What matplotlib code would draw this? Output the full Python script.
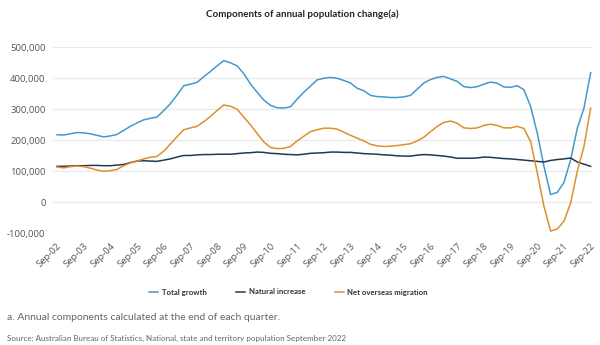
import numpy as np
import matplotlib
matplotlib.use("Agg")
import matplotlib.pyplot as plt

plt.rcParams['font.family'] = ['Lato', 'DejaVu Sans']

# quarterly, year ending Sep-02 .. Sep-22
quarters = np.arange(81)
tick_labels = ['Sep-%02d' % (y % 100) for y in range(2002, 2023)]

total_growth = [
    218, 217, 221, 225, 224, 221, 216, 211, 214, 219,
    232, 245, 256, 266, 271, 275, 296, 318, 346, 376,
    381, 387, 405, 422, 440, 457, 450, 440, 415, 382,
    355, 330, 313, 305, 304, 308, 333, 355, 375, 395,
    400, 403, 400, 393, 385, 368, 360, 345, 341, 340,
    338, 338, 340, 345, 365, 385, 396, 403, 406, 398,
    390, 373, 370, 373, 381, 388, 384, 372, 371, 376,
    363, 309, 223, 116, 25, 32, 64, 137, 239, 304,
    418,
]
natural_increase = [
    116, 116, 117, 118, 118, 119, 119, 118, 118, 120,
    122, 128, 133, 134, 133, 132, 136, 140, 146, 151,
    151, 153, 154, 154, 155, 155, 155, 157, 159, 160,
    162, 161, 158, 157, 155, 154, 153, 155, 158, 159,
    160, 162, 162, 161, 161, 159, 157, 156, 155, 153,
    152, 150, 149, 149, 152, 154, 153, 151, 149, 146,
    142, 142, 142, 143, 146, 145, 143, 141, 140, 138,
    136, 134, 132, 130, 135, 138, 140, 143, 130, 123,
    116,
]
net_overseas_migration = [
    114, 111, 115, 117, 115, 110, 104, 100, 102, 106,
    118, 127, 133, 140, 145, 148, 165, 188, 212, 234,
    240, 245, 260, 277, 296, 314, 310, 300, 275, 250,
    222, 195, 177, 173, 174, 180, 198, 213, 228, 234,
    239, 239, 236, 226, 216, 207, 198, 187, 182, 180,
    181, 183, 186, 189, 198, 210, 228, 245, 258, 262,
    255, 240, 238, 240, 248, 252, 248, 240, 240, 245,
    238, 196, 95, -13, -93, -86, -61, -2, 100, 180,
    304,
]

series = [
    ('Total growth', total_growth, '#4499cc'),
    ('Natural increase', natural_increase, '#1f3a56'),
    ('Net overseas migration', net_overseas_migration, '#e08e2c'),
]

fig = plt.figure(figsize=(6, 3.45), dpi=100)
ax = fig.add_axes([0.0883, 0.3238, 0.9, 0.5391])

for name, vals, col in series:
    ax.plot(quarters, np.array(vals) * 1000, color=col, lw=1.1, label=name)

ax.set_xlim(-0.6, 80.35)
ax.set_ylim(-100000, 500000)
ax.set_yticks(np.arange(-100000, 500001, 100000))
ax.yaxis.set_major_formatter(matplotlib.ticker.FuncFormatter(lambda v, p: '{:,.0f}'.format(v)))
ax.set_xticks(quarters[::4])
ax.set_xticklabels(tick_labels, rotation=45, ha='right', rotation_mode='anchor')
for lab in ax.get_xticklabels() + ax.get_yticklabels():
    lab.set_family('Open Sans')
ax.tick_params(axis='both', length=0, labelsize=6.8, labelcolor='#555555')
ax.tick_params(axis='x', pad=6)
ax.tick_params(axis='y', pad=5.3)
ax.grid(axis='y', color='#e8e8e8', lw=0.9)
ax.set_axisbelow(True)
for s in ax.spines.values():
    s.set_visible(False)

fig.text(302 / 600, 1 - 14.6 / 345, 'Components of annual population change(a)',
         ha='center', va='center', fontsize=7.0, fontweight='bold', color='#222222')

fig.legend(loc='center', bbox_to_anchor=(288.5 / 600, 1 - 292 / 345), ncol=3, frameon=False,
           handlelength=1.15, handletextpad=0.45, columnspacing=3.8,
           labelcolor='#333333', prop={'weight': 'bold', 'size': 5.6})

fig.text(7 / 600, 1 - 317 / 345, 'a. Annual components calculated at the end of each quarter.',
         ha='left', va='center', fontsize=7.5, color='#666666')
fig.text(7 / 600, 1 - 338.5 / 345,
         'Source: Australian Bureau of Statistics, National, state and territory population September 2022',
         ha='left', va='center', fontsize=5.8, color='#666666')

fig.savefig('out.png', dpi=100)
